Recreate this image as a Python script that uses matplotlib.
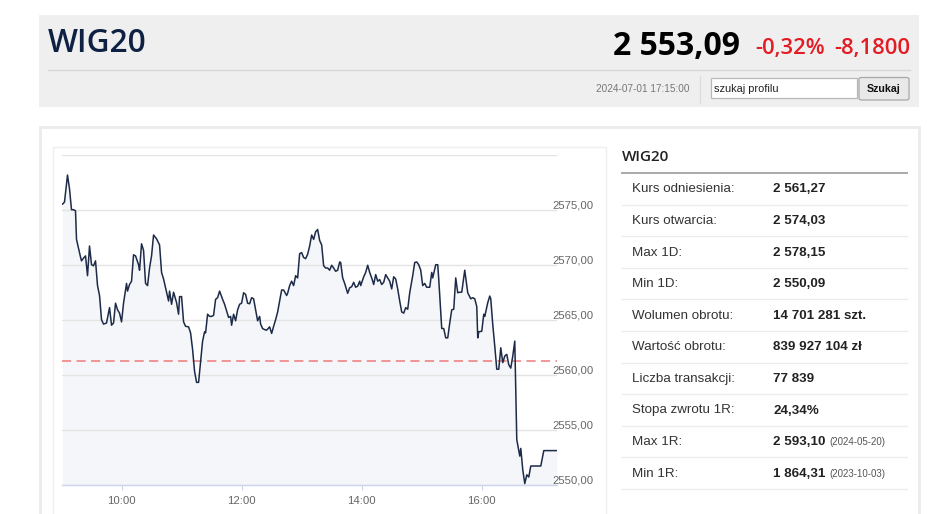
import matplotlib
matplotlib.use("Agg")
import matplotlib.pyplot as plt
import matplotlib.transforms as mtransforms
from matplotlib.patches import Rectangle, FancyBboxPatch
from matplotlib.lines import Line2D

# ==============================
# data (minutes after 9:00, index value)
# ==============================
minutes = [1, 3, 6, 8, 10, 12, 14, 15, 19, 20, 22, 24, 26, 28, 30, 32, 34, 36, 38, 40,
           42, 45, 48, 50, 52, 54, 56, 58, 60, 62, 65, 66, 68, 70, 72, 74, 77, 78, 80, 82,
           84, 86, 88, 90, 92, 95, 98, 100, 102, 105, 107, 108, 110, 112, 115, 117, 118, 120, 122, 124,
           127, 129, 131, 133, 135, 137, 139, 141, 143, 144, 146, 148, 150, 152, 154, 156, 158, 161, 163, 165,
           167, 169, 170, 172, 174, 176, 178, 180, 182, 184, 186, 188, 190, 192, 194, 196, 198, 199, 201, 203,
           205, 208, 210, 212, 214, 216, 218, 220, 222, 225, 226, 228, 230, 232, 234, 236, 238, 240, 242, 244,
           246, 248, 250, 252, 254, 256, 258, 260, 262, 264, 266, 268, 270, 272, 274, 276, 278, 279, 281, 283,
           286, 288, 290, 292, 294, 296, 298, 299, 302, 304, 306, 308, 310, 312, 314, 316, 318, 320, 322, 324,
           326, 328, 330, 332, 334, 336, 338, 340, 342, 344, 346, 348, 351, 353, 355, 357, 359, 361, 363, 365,
           368, 370, 371, 374, 376, 377, 380, 382, 384, 386, 388, 390, 392, 394, 396, 398, 400, 403, 404, 406,
           409, 411, 413, 415, 416, 417, 420, 422, 423, 426, 428, 429, 431, 433, 435, 437, 439, 441, 443, 445,
           447, 449, 451, 453, 455, 458, 459, 461, 463, 465, 467, 469, 474, 479, 482, 487, 495]
values = [2575.5, 2575.7, 2578.15, 2576.9, 2575.0, 2575.0, 2574.9, 2572.3, 2570.7, 2570.35,
          2570.6, 2570.8, 2569.0, 2571.7, 2570.0, 2569.9, 2570.35, 2568.1, 2567.2, 2565.0,
          2564.6, 2564.7, 2566.1, 2564.5, 2564.7, 2566.5, 2565.9, 2565.6, 2564.8, 2566.5,
          2568.3, 2567.6, 2568.2, 2568.5, 2570.9, 2570.8, 2570.0, 2569.5, 2571.9, 2571.3,
          2568.3, 2568.1, 2569.7, 2570.8, 2572.7, 2572.35, 2571.8, 2569.3, 2568.7, 2567.5,
          2566.7, 2567.6, 2566.4, 2567.5, 2566.55, 2565.5, 2567.1, 2567.1, 2564.8, 2564.4,
          2564.35, 2563.8, 2562.3, 2560.3, 2559.3, 2559.3, 2561.2, 2563.05, 2563.9, 2563.8,
          2565.5, 2565.3, 2565.3, 2565.4, 2566.85, 2567.0, 2567.6, 2566.85, 2566.4, 2565.8,
          2565.2, 2565.3, 2564.5, 2565.5, 2564.9, 2565.9, 2566.4, 2566.5, 2567.45, 2567.3,
          2566.5, 2566.45, 2567.0, 2566.9, 2565.9, 2564.9, 2565.3, 2564.6, 2564.2, 2564.1,
          2564.05, 2564.35, 2563.75, 2564.4, 2565.0, 2565.7, 2566.7, 2567.7, 2567.7, 2567.2,
          2567.4, 2568.1, 2568.5, 2568.1, 2569.0, 2568.8, 2571.0, 2571.1, 2570.65, 2570.55,
          2570.95, 2571.7, 2572.7, 2572.3, 2573.0, 2573.2, 2572.2, 2571.8, 2569.9, 2569.7,
          2569.7, 2569.5, 2569.95, 2569.7, 2569.4, 2569.5, 2570.25, 2570.2, 2568.8, 2568.3,
          2567.4, 2567.9, 2568.0, 2568.4, 2567.95, 2568.05, 2568.5, 2568.1, 2568.9, 2569.3,
          2569.95, 2569.3, 2568.8, 2568.2, 2569.1, 2568.5, 2568.65, 2568.2, 2568.4, 2569.1,
          2568.8, 2568.5, 2567.8, 2568.9, 2568.7, 2567.8, 2566.7, 2565.7, 2565.6, 2566.1,
          2565.95, 2567.45, 2569.0, 2570.2, 2570.25, 2570.0, 2569.5, 2568.1, 2568.3, 2567.95,
          2567.95, 2569.3, 2568.8, 2570.0, 2570.0, 2568.7, 2564.2, 2564.2, 2563.35, 2563.35,
          2564.7, 2565.9, 2565.95, 2568.8, 2567.45, 2567.5, 2567.5, 2569.5, 2568.8, 2567.45,
          2566.9, 2567.0, 2566.9, 2566.2, 2563.35, 2563.9, 2563.95, 2565.5, 2565.3, 2566.55,
          2567.15, 2566.9, 2564.55, 2562.6, 2560.5, 2560.5, 2562.45, 2561.1, 2561.7, 2561.85,
          2560.9, 2560.6, 2561.7, 2563.05, 2554.1, 2552.6, 2553.3, 2551.35, 2550.1, 2550.9,
          2550.7, 2551.7, 2551.7, 2551.7, 2553.1, 2553.1, 2553.1]
reference_level = 2561.27

x_ticks = [60, 180, 300, 420]
x_tick_labels = ["10:00", "12:00", "14:00", "16:00"]
y_ticks = [2550, 2555, 2560, 2565, 2570, 2575, 2580]
y_tick_labels = ["2550,00", "2555,00", "2560,00", "2565,00", "2570,00", "2575,00", ""]

name = "WIG20"
last_price = "2 553,09"
change_pct = "-0,32%"
change_abs = "-8,1800"
timestamp = "2024-07-01 17:15:00"

row_labels = ["Kurs odniesienia:", "Kurs otwarcia:", "Max 1D:", "Min 1D:", "Wolumen obrotu:",
              "Wartość obrotu:", "Liczba transakcji:", "Stopa zwrotu 1R:", "Max 1R:", "Min 1R:"]
row_values = ["2 561,27", "2 574,03", "2 578,15", "2 550,09", "14 701 281 szt.",
              "839 927 104 zł", "77 839", "24,34%", "2 593,10", "1 864,31"]
row_notes = ["", "", "", "", "", "", "", "", "(2024-05-20)", "(2023-10-03)"]

# ==============================
# page layout helpers (pixels -> figure fraction)
# ==============================
W, H = 948, 514
fig = plt.figure(figsize=(W / 100, H / 100), dpi=100)
fig.patch.set_facecolor("white")


def fx(x):
    return x / W


def fy(y):
    return 1 - y / H


def box(x0, y0, x1, y1, **kw):
    r = Rectangle((fx(x0), fy(y1)), (x1 - x0) / W, (y1 - y0) / H,
                  transform=fig.transFigure, zorder=-5, **kw)
    fig.add_artist(r)
    return r


def hline(x0, x1, y, **kw):
    fig.add_artist(Line2D([fx(x0), fx(x1)], [fy(y), fy(y)], transform=fig.transFigure, zorder=-4, **kw))


def vline(x, y0, y1, **kw):
    fig.add_artist(Line2D([fx(x), fx(x)], [fy(y0), fy(y1)], transform=fig.transFigure, zorder=-4, **kw))


# header band
box(39, 15, 919, 107, facecolor="#efefef", edgecolor="none")
fig.text(fx(48), fy(44), name, fontsize=22.8, family="Open Sans", weight="semibold",
         color="#0f2142", va="center", ha="left")
fig.text(fx(740), fy(55), last_price, fontsize=23, family="Open Sans", weight="bold",
         color="#000000", va="baseline", ha="right")
fig.text(fx(755), fy(54), change_pct, fontsize=15.8, family="Open Sans", weight="semibold",
         color="#e31b23", va="baseline", ha="left")
fig.text(fx(910), fy(54), change_abs, fontsize=15.8, family="Open Sans", weight="semibold",
         color="#e31b23", va="baseline", ha="right")
hline(48, 910, 69.5, color="#d6d6d6", lw=1)

fig.text(fx(690), fy(89), timestamp, fontsize=7.2, family="Liberation Sans",
         color="#777777", va="center", ha="right")
vline(699.5, 76, 103, color="#dcdcdc", lw=1)
box(711, 78, 857, 98, facecolor="white", edgecolor="#b9b9b9", lw=0.9)
fig.text(fx(714), fy(88.5), "szukaj profilu", fontsize=7.9, family="Liberation Sans",
         color="#222222", va="center", ha="left")
btn = FancyBboxPatch((fx(859), fy(100)), (909 - 859) / W, (100 - 77.5) / H,
                     boxstyle="round,pad=0,rounding_size=0.003", transform=fig.transFigure,
                     facecolor="#e9e9e9", edgecolor="#a8a8a8", lw=0.9, zorder=-5)
fig.add_artist(btn)
fig.text(fx(884), fy(89), "Szukaj", fontsize=7.7, family="Liberation Sans", weight="bold",
         color="#111111", va="center", ha="center")

# content panel and chart frame
box(39.5, 126.5, 919, 530, facecolor="white", edgecolor="#ebebeb", lw=2)
box(52.5, 146.5, 606, 530, facecolor="white", edgecolor="#efefef", lw=1)

# ==============================
# chart
# ==============================
ax = fig.add_axes([fx(61.5), fy(484.7), (556.8 - 61.5) / W, (484.7 - 154.7) / H])
ax.set_zorder(2)
ax.set_facecolor("none")
ax.set_xlim(0, 495)
ax.set_ylim(2550, 2580)

ax.fill_between(minutes, values, 2550, color="#f4f6f9", lw=0, zorder=1)
ax.plot(minutes, values, color="#1d2b48", lw=1.1, zorder=4)
ax.axhline(reference_level, color="#f07a7a", lw=1.1, dashes=(6, 3.5), zorder=3)

ax.set_yticks(y_ticks)
ax.set_yticklabels([])
ax.tick_params(axis="y", length=0)
ax.grid(axis="y", color="#e4e4e4", lw=1, zorder=2)
ax.set_axisbelow(False)

for spine in ["top", "left", "right"]:
    ax.spines[spine].set_visible(False)
ax.spines["bottom"].set_color("#ccd6eb")
ax.spines["bottom"].set_linewidth(1)

ax.set_xticks(x_ticks)
ax.set_xticklabels(x_tick_labels)
ax.tick_params(axis="x", length=3.6, width=0.8, color="#ccd6eb", pad=4.5,
               labelsize=8.2, labelcolor="#666666")
for lab in ax.get_xticklabels():
    lab.set_family("Liberation Sans")

lab_tr = mtransforms.blended_transform_factory(ax.transAxes, ax.transData)
lab_tr = lab_tr + mtransforms.ScaledTranslation(0, 1 / 100, fig.dpi_scale_trans)
for v, s in zip(y_ticks, y_tick_labels):
    ax.text(0.9905, v, s, transform=lab_tr, fontsize=8.2, family="Liberation Sans",
            color="#666666", ha="left", va="baseline", clip_on=False)

# ==============================
# summary table
# ==============================
fig.text(fx(622), fy(157), name, fontsize=11, family="Open Sans", weight="semibold",
         color="#222222", va="center", ha="left")
hline(622, 907, 173, color="#aaaaaa", lw=1.4)

row_h = 31.6
for i, (lab, val, note) in enumerate(zip(row_labels, row_values, row_notes)):
    yc = 189.3 + i * row_h
    fig.text(fx(632), fy(yc), lab, fontsize=9.6, family="Liberation Sans",
             color="#333333", va="center", ha="left")
    t = fig.text(fx(773), fy(yc), val, fontsize=9.6, family="Liberation Sans", weight="bold",
                 color="#222222", va="center", ha="left")
    if note:
        fig.canvas.draw()
        bb = t.get_window_extent()
        fig.text(bb.x1 / W + 4 / W, fy(yc), note, fontsize=7, family="Liberation Sans",
                 color="#555555", va="center", ha="left")
    hline(622, 907, yc + 15.3, color="#ececec", lw=1)

fig.savefig("out.png", dpi=100)
